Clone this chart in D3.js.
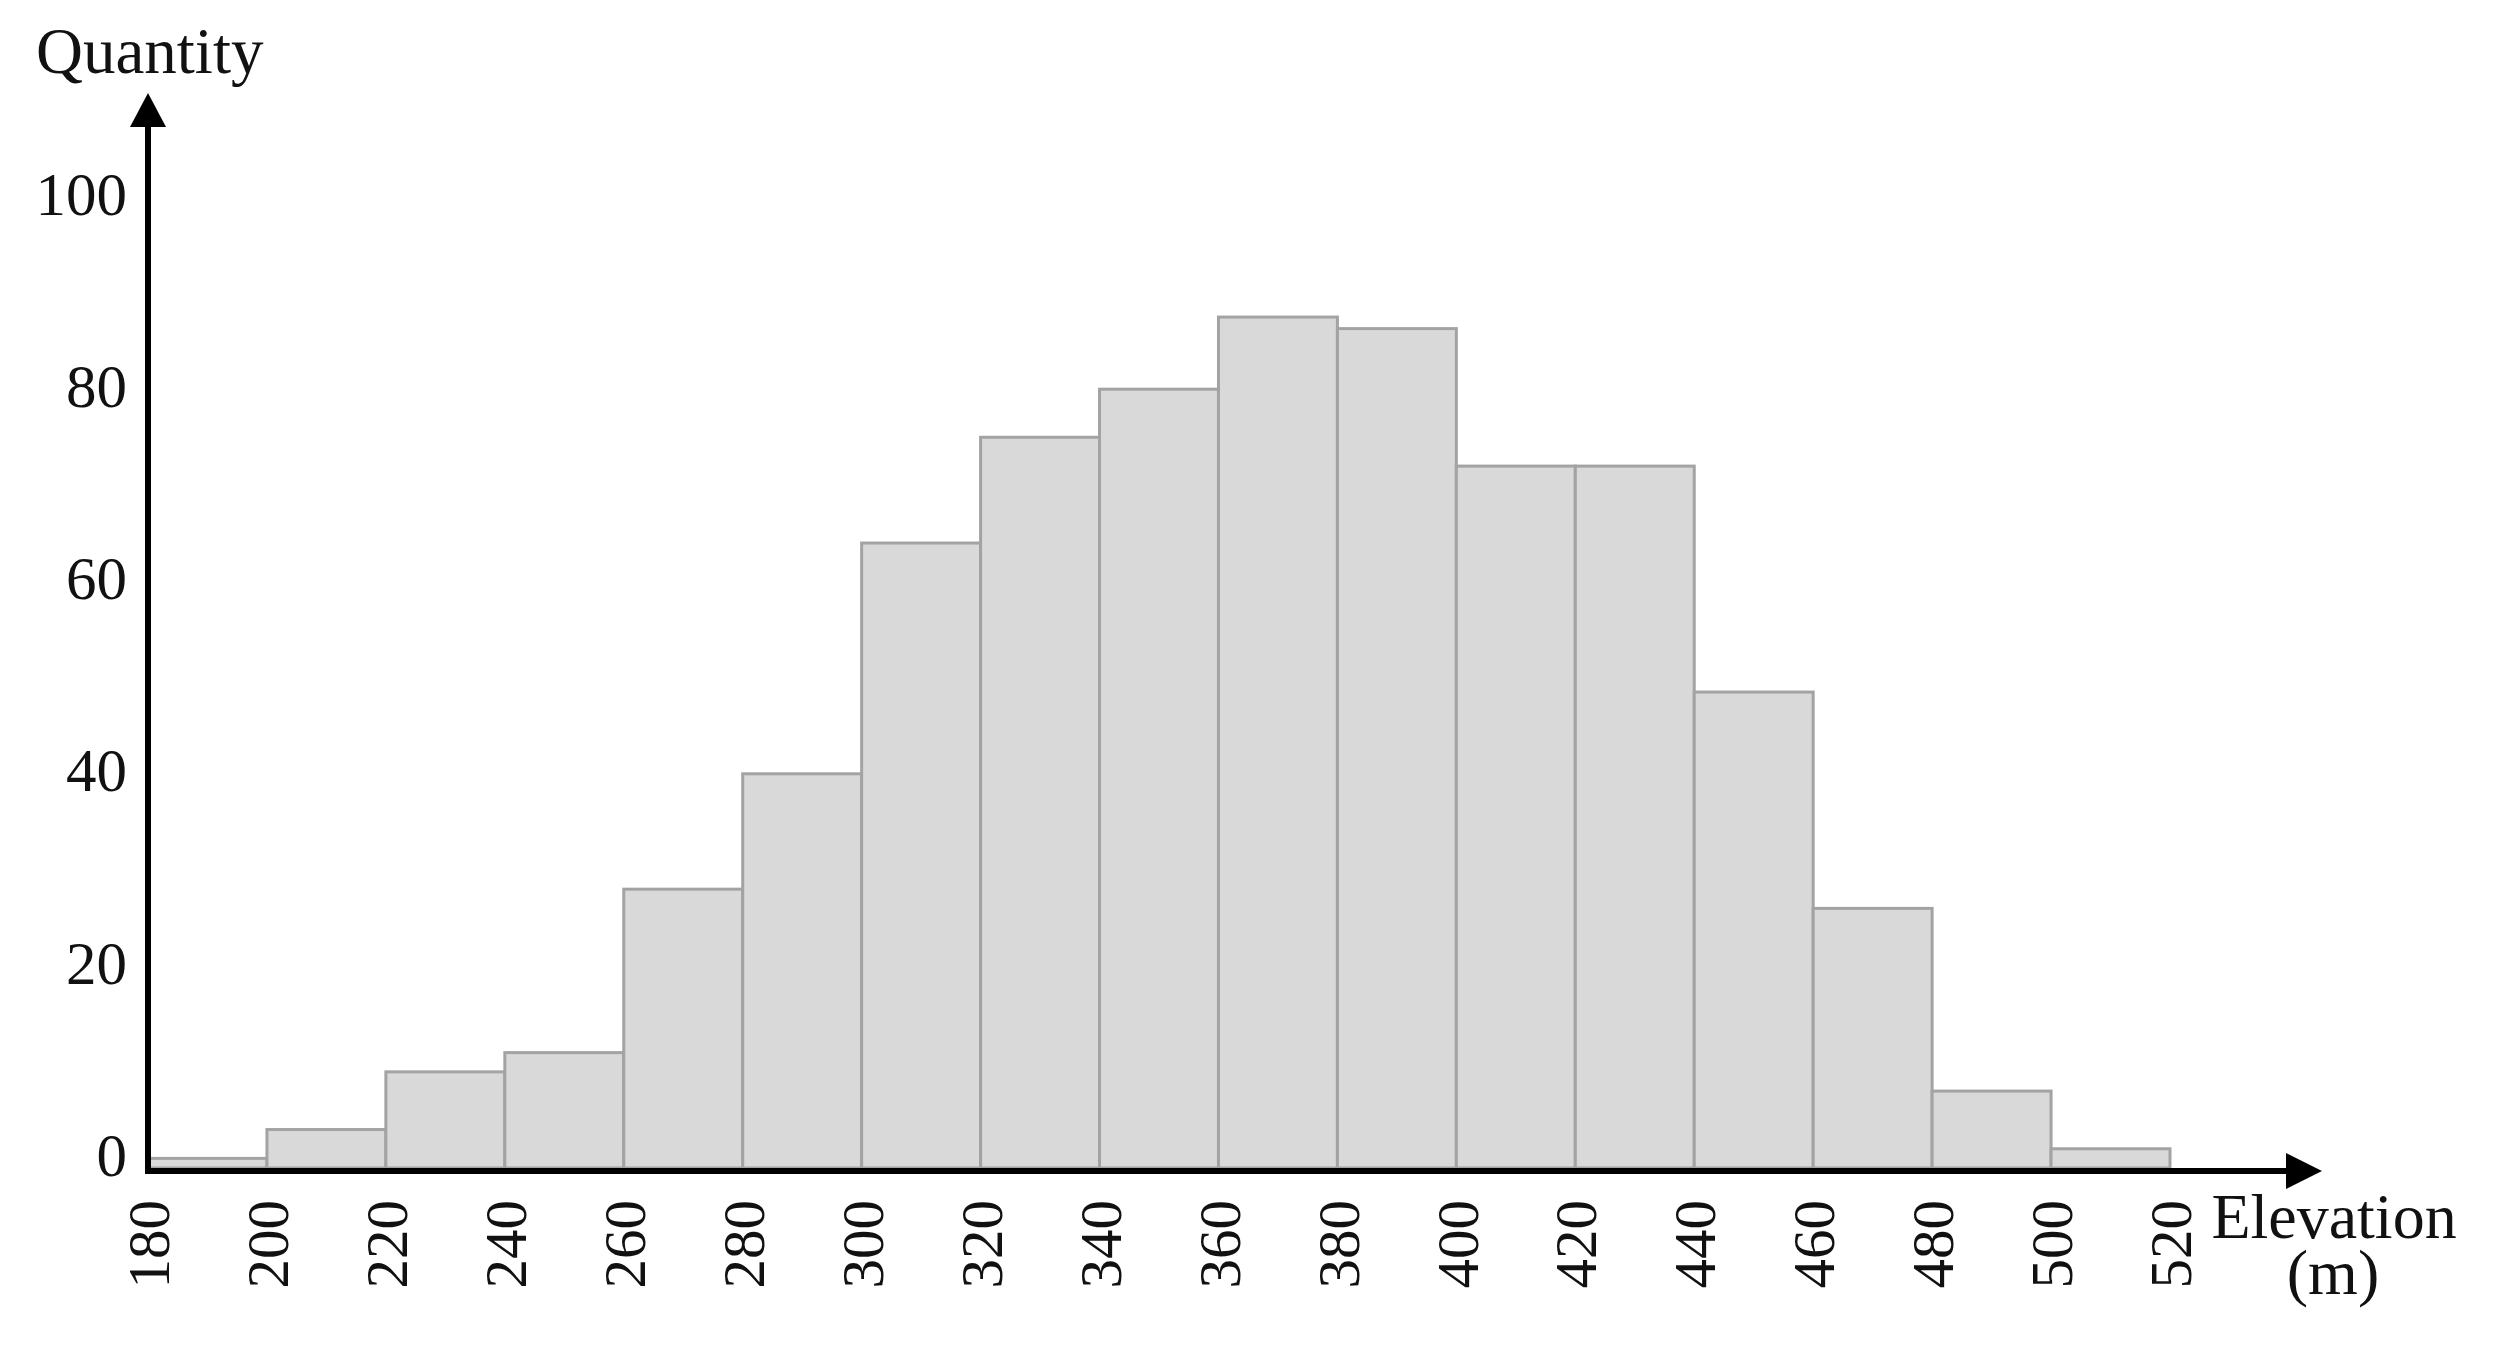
<!DOCTYPE html>
<html>
<head>
<meta charset="utf-8">
<script src="https://cdn.jsdelivr.net/npm/d3@7"></script>
<style>
  body { margin: 0; background: #fff; }
  text { font-family: "Liberation Serif", "Times New Roman", serif; fill: #111; }
</style>
</head>
<body>
<div id="chart"></div>
<script>
// bin edges (m) and counts per bin
var binStarts = [180, 200, 220, 240, 260, 280, 300, 320, 340, 360, 380, 400, 420, 440, 460, 480, 500];
var binWidth = 20;
var counts = [1, 4, 10, 12, 29, 41, 65, 76, 81, 88.5, 87.3, 73, 73, 49.5, 27, 8, 2];
var xTicks = [180, 200, 220, 240, 260, 280, 300, 320, 340, 360, 380, 400, 420, 440, 460, 480, 500, 520];
var yTicks = [0, 20, 40, 60, 80, 100];

var svgWidth = 2496;
var svgHeight = 1347;

var originX = 148;
var originY = 1171;

var svg = d3.select("#chart")
  .append("svg")
  .attr("width", svgWidth)
  .attr("height", svgHeight);

var x = d3.scaleLinear()
  .domain([180, 520])
  .range([originX, 2170]);

// bars sit on the axis line
var y = d3.scaleLinear()
  .domain([0, 100])
  .range([originY - 3, originY - 3 - 961.5]);

// bars
svg.append("g")
  .selectAll("rect")
  .data(binStarts)
  .enter()
  .append("rect")
  .attr("x", d => x(d))
  .attr("width", d => x(d + binWidth) - x(d))
  .attr("y", (d, i) => y(counts[i]))
  .attr("height", (d, i) => y(0) - y(counts[i]))
  .attr("fill", "#d9d9d9")
  .attr("stroke", "#a3a3a3")
  .attr("stroke-width", 3);

// y axis labels (sit a little above their value)
var leftAxis = d3.axisLeft(y).tickValues(yTicks).tickSize(0).tickPadding(21);
var yAxisG = svg.append("g")
  .attr("transform", `translate(${originX}, 0)`)
  .call(leftAxis);
yAxisG.select(".domain").remove();
yAxisG.selectAll("text")
  .attr("font-size", 61)
  .attr("font-family", null)
  .attr("transform", "translate(0,-12)");

// x axis labels, rotated
var bottomAxis = d3.axisBottom(x).tickValues(xTicks).tickSize(0);
var xAxisG = svg.append("g")
  .attr("transform", `translate(0, ${originY})`)
  .call(bottomAxis);
xAxisG.select(".domain").remove();
xAxisG.selectAll("text")
  .attr("font-size", 59)
  .attr("font-family", null)
  .attr("y", 0)
  .attr("x", -29)
  .attr("dy", "0.35em")
  .attr("transform", "rotate(-90)")
  .style("text-anchor", "end");

// axis lines with arrows
svg.append("line")
  .attr("x1", originX).attr("y1", originY + 3)
  .attr("x2", originX).attr("y2", 124)
  .attr("stroke", "#000").attr("stroke-width", 6);
svg.append("path")
  .attr("d", `M${originX},93 L${originX - 18},127 L${originX + 18},127 Z`)
  .attr("fill", "#000");

svg.append("line")
  .attr("x1", originX - 3).attr("y1", originY)
  .attr("x2", 2290).attr("y2", originY)
  .attr("stroke", "#000").attr("stroke-width", 6);
svg.append("path")
  .attr("d", `M2322,${originY} L2286,${originY - 18} L2286,${originY + 18} Z`)
  .attr("fill", "#000");

// axis titles
svg.append("text")
  .attr("x", 36)
  .attr("y", 73)
  .attr("font-size", 65)
  .text("Quantity");

svg.append("text")
  .attr("x", 2334)
  .attr("y", 1238)
  .attr("font-size", 64)
  .attr("text-anchor", "middle")
  .text("Elevation");

svg.append("text")
  .attr("x", 2333)
  .attr("y", 1294)
  .attr("font-size", 64)
  .attr("text-anchor", "middle")
  .text("(m)");
</script>
</body>
</html>
